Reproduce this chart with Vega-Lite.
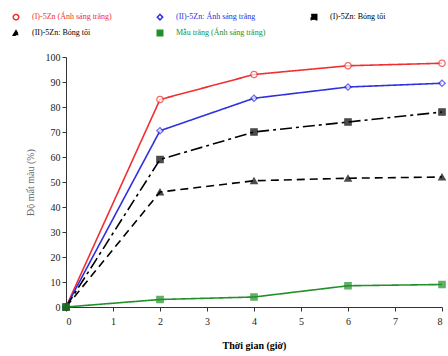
{
  "$schema": "https://vega.github.io/schema/vega-lite/v6.json",
  "autosize": "none",
  "width": 376,
  "height": 250,
  "padding": {"left": 66, "top": 57, "right": 6, "bottom": 49},
  "background": "white",
  "config": {
    "font": "Liberation Serif",
    "view": {"stroke": null},
    "axis": {"domainColor": "#333", "tickColor": "#333", "labelColor": "#222", "grid": false, "labelFontSize": 10, "titleFontSize": 10, "labelFont": "Liberation Serif", "titleFont": "Liberation Serif"}
  },
  "data": {
    "values": [
      {"t": 0, "v": 0, "s": "(I)-5Zn (Ánh sáng trắng)"},
      {"t": 2, "v": 83, "s": "(I)-5Zn (Ánh sáng trắng)"},
      {"t": 4, "v": 93, "s": "(I)-5Zn (Ánh sáng trắng)"},
      {"t": 6, "v": 96.5, "s": "(I)-5Zn (Ánh sáng trắng)"},
      {"t": 8, "v": 97.5, "s": "(I)-5Zn (Ánh sáng trắng)"},
      {"t": 0, "v": 0, "s": "(II)-5Zn: Ánh sáng trắng"},
      {"t": 2, "v": 70.5, "s": "(II)-5Zn: Ánh sáng trắng"},
      {"t": 4, "v": 83.5, "s": "(II)-5Zn: Ánh sáng trắng"},
      {"t": 6, "v": 88, "s": "(II)-5Zn: Ánh sáng trắng"},
      {"t": 8, "v": 89.5, "s": "(II)-5Zn: Ánh sáng trắng"},
      {"t": 0, "v": 0, "s": "(I)-5Zn: Bóng tối"},
      {"t": 2, "v": 59, "s": "(I)-5Zn: Bóng tối"},
      {"t": 4, "v": 70, "s": "(I)-5Zn: Bóng tối"},
      {"t": 6, "v": 74, "s": "(I)-5Zn: Bóng tối"},
      {"t": 8, "v": 78, "s": "(I)-5Zn: Bóng tối"},
      {"t": 0, "v": 0, "s": "(II)-5Zn: Bóng tối"},
      {"t": 2, "v": 46, "s": "(II)-5Zn: Bóng tối"},
      {"t": 4, "v": 50.5, "s": "(II)-5Zn: Bóng tối"},
      {"t": 6, "v": 51.5, "s": "(II)-5Zn: Bóng tối"},
      {"t": 8, "v": 52, "s": "(II)-5Zn: Bóng tối"},
      {"t": 0, "v": 0, "s": "Mẫu trắng (Ánh sáng trắng)"},
      {"t": 2, "v": 3, "s": "Mẫu trắng (Ánh sáng trắng)"},
      {"t": 4, "v": 4, "s": "Mẫu trắng (Ánh sáng trắng)"},
      {"t": 6, "v": 8.5, "s": "Mẫu trắng (Ánh sáng trắng)"},
      {"t": 8, "v": 9, "s": "Mẫu trắng (Ánh sáng trắng)"}
    ]
  },
  "encoding": {
    "x": {"field": "t", "type": "quantitative", "scale": {"domain": [0, 8], "nice": false}, "axis": {"values": [0,1,2,3,4,5,6,7,8], "title": "Thời gian (giờ)", "titleFontWeight": "bold", "titlePadding": 14, "tickSize": 4, "labelPadding": 5}},
    "y": {"field": "v", "type": "quantitative", "scale": {"domain": [0, 100], "nice": false}, "axis": {"values": [0,10,20,30,40,50,60,70,80,90,100], "title": "Độ mất màu (%)", "titleFontWeight": "normal", "titleColor": "#666", "titlePadding": 10, "tickSize": 4}},
    "color": {"field": "s", "type": "nominal", "scale": {"domain": ["(I)-5Zn (Ánh sáng trắng)", "(II)-5Zn: Ánh sáng trắng", "(I)-5Zn: Bóng tối", "(II)-5Zn: Bóng tối", "Mẫu trắng (Ánh sáng trắng)"], "range": ["#f03030", "#3030e0", "#000000", "#000000", "#22902a"]},
      "legend": {"orient": "none", "legendX": -54, "legendY": -44, "columns": 3, "direction": "horizontal", "title": null, "labelFontSize": 8, "columnPadding": 42, "rowPadding": 4, "symbolSize": 30, "labelOffset": 12, "labelLimit": 200,
        "encode": {"labels": {"update": {"fill": {"scale": "color", "field": "value"}}}}}},
    "strokeDash": {"field": "s", "type": "nominal", "scale": {"domain": ["(I)-5Zn (Ánh sáng trắng)", "(II)-5Zn: Ánh sáng trắng", "(I)-5Zn: Bóng tối", "(II)-5Zn: Bóng tối", "Mẫu trắng (Ánh sáng trắng)"], "range": [[1,0],[1,0],[12,4,3,4],[8,5],[1,0]]}, "legend": null}
  },
  "layer": [
    {"mark": {"type": "line", "strokeWidth": 1.6}},
    {"mark": {"type": "point", "filled": false, "size": 40, "strokeWidth": 1.3, "strokeDash": [1,0]},
      "encoding": {
        "shape": {"field": "s", "type": "nominal", "scale": {"domain": ["(I)-5Zn (Ánh sáng trắng)", "(II)-5Zn: Ánh sáng trắng", "(I)-5Zn: Bóng tối", "(II)-5Zn: Bóng tối", "Mẫu trắng (Ánh sáng trắng)"], "range": ["circle", "diamond", "square", "triangle-up", "square"]}, "legend": null},
        "fill": {"field": "s", "type": "nominal", "scale": {"domain": ["(I)-5Zn (Ánh sáng trắng)", "(II)-5Zn: Ánh sáng trắng", "(I)-5Zn: Bóng tối", "(II)-5Zn: Bóng tối", "Mẫu trắng (Ánh sáng trắng)"], "range": ["#ffffff", "#ffffff", "#000000", "#000000", "#22902a"]}, "legend": null},
        "strokeDash": {"value": [1,0]}
      }}
  ]
}
